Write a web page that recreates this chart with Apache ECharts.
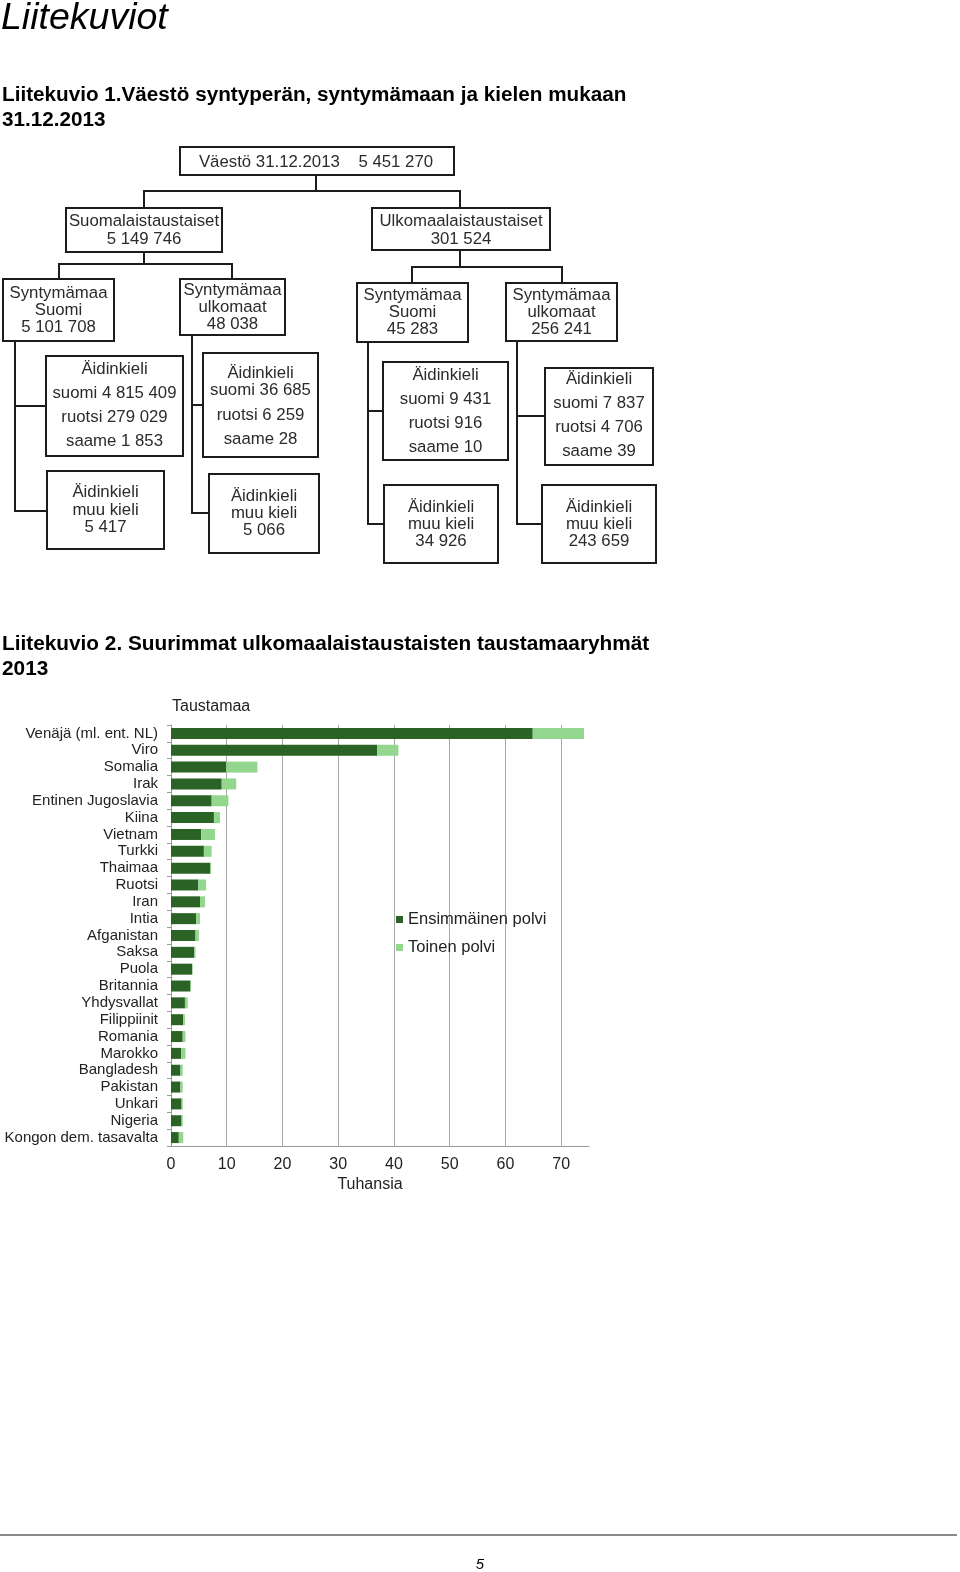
<!DOCTYPE html>
<html>
<head>
<meta charset="utf-8">
<script src="https://cdn.jsdelivr.net/npm/echarts@6/dist/echarts.min.js"></script>
<style>
html,body{margin:0;padding:0;background:#fff;}
#c{width:960px;height:1572px;}
</style>
</head>
<body>
<div id="c"></div>
<script>
// ---- Diagram (Liitekuvio 1) data ----
const populationTotal = 5451270;
const originNames = ['Suomalaistaustaiset', 'Ulkomaalaistaustaiset'];
const originValues = [5149746, 301524];
const birthNames = [['Syntymämaa', 'Suomi'], ['Syntymämaa', 'ulkomaat'], ['Syntymämaa', 'Suomi'], ['Syntymämaa', 'ulkomaat']];
const birthValues = [5101708, 48038, 45283, 256241];
const langSuomi = [4815409, 36685, 9431, 7837];
const langRuotsi = [279029, 6259, 916, 4706];
const langSaame = [1853, 28, 10, 39];
const langOther = [5417, 5066, 34926, 243659];

// ---- Bar chart (Liitekuvio 2) data, thousands ----
const categories = ['Venäjä (ml. ent. NL)', 'Viro', 'Somalia', 'Irak', 'Entinen Jugoslavia', 'Kiina', 'Vietnam', 'Turkki', 'Thaimaa', 'Ruotsi', 'Iran', 'Intia', 'Afganistan', 'Saksa', 'Puola', 'Britannia', 'Yhdysvallat', 'Filippiinit', 'Romania', 'Marokko', 'Bangladesh', 'Pakistan', 'Unkari', 'Nigeria', 'Kongon dem. tasavalta'];
const firstGeneration = [64.9, 37.0, 9.9, 9.1, 7.3, 7.7, 5.4, 5.9, 7.0, 4.9, 5.2, 4.5, 4.4, 4.2, 3.8, 3.5, 2.5, 2.2, 2.1, 1.8, 1.7, 1.7, 1.9, 1.9, 1.4];
const secondGeneration = [9.2, 3.8, 5.6, 2.6, 3.0, 1.1, 2.5, 1.4, 0.2, 1.4, 0.9, 0.7, 0.6, 0.2, 0.1, 0.1, 0.5, 0.3, 0.5, 0.8, 0.4, 0.4, 0.2, 0.2, 0.8];
const seriesNames = ['Ensimmäinen polvi', 'Toinen polvi'];
const xTicks = [0, 10, 20, 30, 40, 50, 60, 70];

function fmt(n) { return String(n).replace(/\B(?=(\d{3})+(?!\d))/g, ' '); }

const FONT = '"Liberation Sans", Arial, sans-serif';
const TXT = '#2b2b2b';
const LINE = '#1c1c1c';
const BOXFONT = '16.8px ' + FONT;
const TY = 2; // text vertical offset in diagram

// layout of diagram boxes: [x1,y1,x2,y2]
const L = {
  top: [180, 147, 454, 175],
  origin: [[66, 208, 222, 252], [372, 208, 550, 250]],
  birth: [[3, 279, 114, 341], [180, 279, 285, 335], [357, 283, 468, 342], [506, 283, 617, 341]],
  lang: [[46, 356, 183, 456], [203, 353, 318, 457], [383, 362, 508, 460], [545, 368, 653, 465]],
  other: [[47, 471, 164, 549], [209, 474, 319, 553], [384, 485, 498, 563], [542, 485, 656, 563]],
  birthTextY: [[291, 308, 325], [288, 305, 322], [293, 310, 327], [293, 310, 327]],
  langTextY: [[367, 391, 415, 439], [371, 388, 413, 437], [373, 397, 421, 445], [377, 401, 425, 449]],
  otherTextY: [[490, 508, 525], [494, 511, 528], [505, 522, 539], [505, 522, 539]],
  trunkX: [15, 192, 368, 517],
  branchY: [[406, 511], [405, 513], [411, 524], [416, 524]]
};

const g = [];
function box(b) {
  g.push({ type: 'rect', shape: { x: b[0], y: b[1], width: b[2] - b[0], height: b[3] - b[1] },
    style: { fill: '#fff', stroke: LINE, lineWidth: 2 }, z: 10 });
}
function line(pts) {
  g.push({ type: 'polyline', shape: { points: pts }, style: { stroke: LINE, lineWidth: 2, fill: null }, z: 5 });
}
function txt(s, x, y) {
  g.push({ type: 'text', x: x, y: y + TY, z: 20,
    style: { text: s, fill: TXT, font: BOXFONT, align: 'center', verticalAlign: 'middle' } });
}
function ptxt(s, x, y, font, align, color) {
  g.push({ type: 'text', x: x, y: y, z: 20,
    style: { text: s, fill: color || '#000', font: font, align: align || 'left', verticalAlign: 'middle' } });
}

box(L.top);
txt('Väestö 31.12.2013    ' + fmt(populationTotal), 316, 160);
line([[316, 175], [316, 191]]);
line([[144, 208], [144, 191], [460, 191], [460, 208]]);
originNames.forEach((n, i) => {
  const b = L.origin[i];
  box(b);
  const cx = (b[0] + b[2]) / 2;
  txt(n, cx, 219);
  txt(fmt(originValues[i]), cx, 237);
});
line([[144, 252], [144, 264]]);
line([[59, 279], [59, 264], [232, 264], [232, 279]]);
line([[460, 250], [460, 267]]);
line([[412, 283], [412, 267], [562, 267], [562, 283]]);
birthNames.forEach((n, i) => {
  const b = L.birth[i];
  box(b);
  const cx = (b[0] + b[2]) / 2;
  const ys = L.birthTextY[i];
  txt(n[0], cx, ys[0]);
  txt(n[1], cx, ys[1]);
  txt(fmt(birthValues[i]), cx, ys[2]);
  const tx = L.trunkX[i];
  const by = L.branchY[i];
  line([[tx, b[3]], [tx, by[1]], [L.other[i][0], by[1]]]);
  line([[tx, by[0]], [L.lang[i][0], by[0]]]);
  const lb = L.lang[i];
  box(lb);
  const lcx = (lb[0] + lb[2]) / 2;
  const ly = L.langTextY[i];
  txt('Äidinkieli', lcx, ly[0]);
  txt('suomi ' + fmt(langSuomi[i]), lcx, ly[1]);
  txt('ruotsi ' + fmt(langRuotsi[i]), lcx, ly[2]);
  txt('saame ' + fmt(langSaame[i]), lcx, ly[3]);
  const ob = L.other[i];
  box(ob);
  const ocx = (ob[0] + ob[2]) / 2;
  const oy = L.otherTextY[i];
  txt('Äidinkieli', ocx, oy[0]);
  txt('muu kieli', ocx, oy[1]);
  txt(fmt(langOther[i]), ocx, oy[2]);
});

// page texts
ptxt('Liitekuviot', 1, 19, 'italic 37.5px ' + FONT);
ptxt('Liitekuvio 1.Väestö syntyperän, syntymämaan ja kielen mukaan', 2, 95, 'bold 20.7px ' + FONT);
ptxt('31.12.2013', 2, 120, 'bold 20.7px ' + FONT);
ptxt('Liitekuvio 2. Suurimmat ulkomaalaistaustaisten taustamaaryhmät', 2, 644, 'bold 20.8px ' + FONT);
ptxt('2013', 2, 669, 'bold 20.8px ' + FONT);
ptxt('Taustamaa', 172, 707, '16px ' + FONT, 'left', '#222');
ptxt('Tuhansia', 370, 1185, '16px ' + FONT, 'center', '#222');
g.push({ type: 'line', shape: { x1: 0, y1: 1535, x2: 957, y2: 1535 }, style: { stroke: '#8a8a8a', lineWidth: 2 } });
ptxt('5', 480, 1565, 'italic 15px ' + FONT, 'center');

const chart = echarts.init(document.getElementById('c'), null, { renderer: 'canvas' });
chart.setOption({
  backgroundColor: '#fff',
  animation: false,
  textStyle: { fontFamily: FONT },
  graphic: g,
  legend: {
    orient: 'vertical', left: 396, top: 911, padding: 0, itemWidth: 7, itemHeight: 7, itemGap: 11,
    icon: 'rect', textStyle: { fontSize: 16.5, color: '#222', fontFamily: FONT, padding: [0, 0, 0, 0] },
    data: seriesNames
  },
  grid: { left: 171, right: 371, top: 725, bottom: 426, containLabel: false },
  xAxis: {
    type: 'value', min: 0, max: 75, interval: 10,
    axisLine: { show: true, lineStyle: { color: '#9a9a9a', width: 1 } },
    axisTick: { show: false },
    axisLabel: { color: '#222', fontSize: 16, margin: 11, showMaxLabel: false,
      formatter: v => (xTicks.indexOf(v) >= 0 ? String(v) : '') },
    splitLine: { show: true, showMaxLine: false, lineStyle: { color: '#a8a8a8', width: 1 } }
  },
  yAxis: {
    type: 'category', data: categories, inverse: true,
    axisLine: { show: true, lineStyle: { color: '#9a9a9a' } },
    axisTick: { show: true, length: 4, lineStyle: { color: '#9a9a9a' } },
    axisLabel: { color: '#222', fontSize: 15, margin: 13, interval: 0, padding: [3, 0, 0, 0] }
  },
  series: [
    { name: seriesNames[0], type: 'bar', stack: 'a', data: firstGeneration, barWidth: 11,
      itemStyle: { color: '#2b6326' } },
    { name: seriesNames[1], type: 'bar', stack: 'a', data: secondGeneration, barWidth: 11,
      itemStyle: { color: '#93d68e' } }
  ]
});
</script>
</body>
</html>
